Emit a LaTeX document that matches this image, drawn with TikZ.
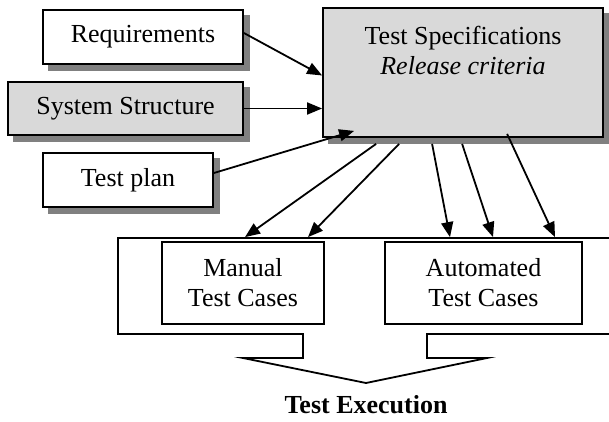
\documentclass[tikz,border=0pt]{standalone}
\usepackage{fontspec}
\setmainfont{Liberation Serif}
\usetikzlibrary{arrows.meta,calc,backgrounds}

\definecolor{boxgrey}{RGB}{217,217,217}
\definecolor{shadowgrey}{RGB}{128,128,128}

\tikzset{every picture/.style={line width=1.8pt}}
\tikzset{
  plainbox/.style={draw,fill=white,inner sep=0pt,font=\fontsize{26}{30}\selectfont,align=center},
  greybox/.style={plainbox,fill=boxgrey},
  shadowfill/.style={fill=shadowgrey,draw=none},
  feed/.style={-{Triangle[length=15pt,width=12pt]}},
}

\begin{document}
\begin{tikzpicture}[x=1pt,y=1pt,yscale=-1,xscale=1]
\useasboundingbox (0,0) rectangle (609,422);

% Input boxes
\node (req) [plainbox,minimum width=200,minimum height=54] at (143,37) {Requirements};
\node (sys) [greybox,minimum width=235,minimum height=53] at (125.5,108.5) {System Structure};
\node (plan) [plainbox,minimum width=170,minimum height=54] at (128,180) {Test plan};
% Spec box
\node (spec) [greybox,minimum width=280,minimum height=129] at (463,72.5) {};
\node (spectext) [anchor=north,inner sep=0pt,font=\fontsize{26}{30}\selectfont,align=center] at (463,25) {Test Specifications\\\textit{Release criteria}};

% Shadows
\begin{scope}[on background layer]
\fill[shadowfill] ($(req.south west)+(6,6)$) rectangle ($(req.north east)+(6,6)$);
\fill[shadowfill] ($(sys.south west)+(6,6)$) rectangle ($(sys.north east)+(6,6)$);
\fill[shadowfill] ($(plan.south west)+(6,6)$) rectangle ($(plan.north east)+(6,6)$);
\fill[shadowfill] ($(spec.south west)+(6,6)$) rectangle ($(spec.north east)+(6,6)$);
\end{scope}

% Tray arrow
\draw (609,238) -- (118,238) -- (118,334) -- (303,334) -- (303,358) -- (243,358) -- (366,383) -- (487,358) -- (427,358) -- (427,334) -- (609,334);

% Test case boxes
\node (manual) [plainbox,minimum width=162,minimum height=82] at (243,283) {Manual\\Test Cases};
\node (auto) [plainbox,minimum width=197,minimum height=82] at (483.5,283) {Automated\\Test Cases};

% Text Node
\node (exec) [inner sep=0pt,font=\fontsize{26}{30}\selectfont\bfseries] at (366,405) {Test Execution};

% Arrows in
\draw[feed] ($(req.east)+(0,-4)$) -- ($(spec.west)+(0,3)$);
\draw[feed] (sys.east) -- (sys.east -| spec.west);
\draw[feed] ($(plan.east)+(0,-7)$) -- ($(spec.south west)+(32,-7)$);
% Arrows out
\draw[feed] ($(spec.south west)+(54,6)$) -- ($(manual.north)+(2,-4)$);
\draw[feed] ($(spec.south west)+(77,6)$) -- ($(manual.north)+(65,-4)$);
\draw[feed] ($(spec.south west)+(110,6)$) -- ($(auto.north)+(-33.5,-4)$);
\draw[feed] ($(spec.south west)+(140,6)$) -- ($(auto.north)+(9.5,-4)$);
\draw[feed] ($(spec.south west)+(185,-4)$) -- ($(auto.north)+(71.5,-4)$);

\end{tikzpicture}
\end{document}
